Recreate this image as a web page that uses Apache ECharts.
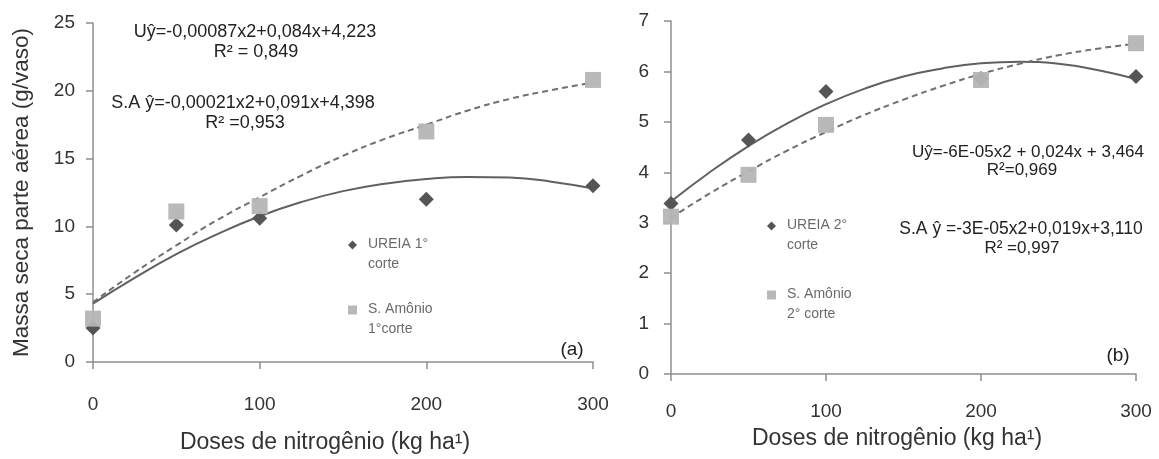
<!DOCTYPE html>
<html lang="pt">
<head>
    <meta charset="UTF-8">
    <title>Massa seca parte aérea</title>
    <script src="https://cdn.jsdelivr.net/npm/echarts@6.0.0/dist/echarts.min.js"></script>
    <style>
        body { margin: 0; background: #fff; }
        #chart { width: 1159px; height: 459px; }
    </style>
</head>
<body>
    <div id="chart"></div>
    <script>
        // doses de N (kg ha-1)
        const doses = [0, 50, 100, 200, 300];
        // pontos observados (a) 1° corte
        const ureia1 = [2.5, 10.1, 10.6, 12.0, 13.0];
        const sa1 = [3.2, 11.1, 11.5, 17.0, 20.8];
        // pontos observados (b) 2° corte
        const ureia2 = [3.38, 4.64, 5.6, 5.86, 5.9];
        const sa2 = [3.12, 3.95, 4.94, 5.83, 6.56];

        const curveX = [0, 25, 50, 75, 100, 125, 150, 175, 200, 225, 250, 275, 300];
        const ureia1Fit = [4.3, 6.2, 7.95, 9.45, 10.75, 11.8, 12.6, 13.15, 13.5, 13.65, 13.6, 13.3, 12.8];
        const sa1Fit = [4.4, 6.6, 8.6, 10.5, 12.15, 13.75, 15.2, 16.45, 17.5, 18.55, 19.4, 20.05, 20.6];
        const ureia2Fit = [3.42, 4.0, 4.52, 4.97, 5.35, 5.66, 5.9, 6.06, 6.16, 6.19, 6.15, 6.03, 5.85];
        const sa2Fit = [3.1, 3.58, 4.02, 4.43, 4.8, 5.14, 5.44, 5.71, 5.95, 6.15, 6.32, 6.45, 6.55];

        const yTicks1 = { min: 0, max: 25, interval: 5 };
        const yTicks2 = { min: 0, max: 7, interval: 1 };

        const pairs = (xs, ys) => xs.map((x, i) => [x, ys[i]]);

        const font = 'Liberation Sans, Arial, sans-serif';
        const narrow = 'Liberation Sans Narrow, Arial Narrow, Liberation Sans, sans-serif';
        const axisColor = '#8f8f8f';
        const dark = '#555555';
        const light = '#b5b5b5';

        // icones da legenda: simbolo no topo, alinhado com a primeira linha do texto
        const diamondIcon = 'path://M5,0L10,5L5,10L0,5Z M5,30L5,30';
        const squareIcon = 'path://M0,0L10,0L10,10L0,10Z M5,30L5,30';

        function xAxisCfg(gridIndex, gap, margin, shift) {
            return {
                type: 'value', gridIndex: gridIndex, min: 0, max: 300, interval: 100,
                name: 'Doses de nitrogênio (kg ha¹)', nameLocation: 'middle', nameGap: gap,
                nameTextStyle: { fontFamily: font, fontSize: 23, color: '#333', padding: [0, shift, 0, 0] },
                axisLine: { lineStyle: { color: axisColor, width: 1.5 } },
                axisTick: { length: 7, lineStyle: { color: axisColor, width: 1.5 } },
                axisLabel: { fontFamily: font, fontSize: 19, color: '#333', margin: margin },
                splitLine: { show: false }
            };
        }
        function yAxisCfg(gridIndex, t, margin) {
            return {
                type: 'value', gridIndex: gridIndex, min: t.min, max: t.max, interval: t.interval,
                axisLine: { show: true, lineStyle: { color: axisColor, width: 1.5 } },
                axisTick: { show: true, length: 7, lineStyle: { color: axisColor, width: 1.5 } },
                axisLabel: { fontFamily: font, fontSize: 19, color: '#333', margin: margin },
                splitLine: { show: false }
            };
        }

        function fitLine(name, x, y, idx, dashed) {
            return {
                name: name, type: 'line', xAxisIndex: idx, yAxisIndex: idx,
                data: pairs(x, y), smooth: true, showSymbol: false, z: 2,
                lineStyle: { color: dashed ? '#707070' : '#606060', width: 2, type: dashed ? [6, 4] : 'solid' }
            };
        }
        function points(name, x, y, idx, isSquare) {
            return {
                name: name, type: 'scatter', xAxisIndex: idx, yAxisIndex: idx,
                data: pairs(x, y), z: isSquare ? 4 : 3,
                symbol: isSquare ? 'rect' : 'diamond',
                symbolSize: isSquare ? 16 : 15,
                itemStyle: { color: isSquare ? light : dark, opacity: isSquare ? 0.95 : 1 }
            };
        }

        function eq(text, x, y, size) {
            return {
                type: 'text', x: x, y: y,
                style: { text: text, fontFamily: narrow, fontSize: size, fill: '#222', align: 'center', verticalAlign: 'middle' }
            };
        }

        function legendCfg(names, left, top, gap) {
            return {
                data: [
                    { name: names[0], icon: diamondIcon },
                    { name: names[1], icon: squareIcon }
                ],
                orient: 'vertical', left: left, top: top, itemGap: gap,
                itemWidth: 9, itemHeight: 30,
                textStyle: { fontFamily: narrow, fontSize: 14, color: '#6a6a6a', lineHeight: 20, padding: [0, 0, 0, 6] }
            };
        }

        const chart = echarts.init(document.getElementById('chart'));
        chart.setOption({
            animation: false,
            grid: [
                { left: 93, top: 23, width: 500, height: 346 },
                { left: 671, top: 21, width: 465, height: 353 }
            ],
            xAxis: [xAxisCfg(0, 69, 33, 36), xAxisCfg(1, 53, 28, 13)],
            yAxis: [
                Object.assign(yAxisCfg(0, yTicks1, 18), {
                    name: 'Massa seca parte aérea (g/vaso)', nameLocation: 'middle', nameGap: 60,
                    nameTextStyle: { fontFamily: font, fontSize: 22.5, color: '#333' }
                }),
                yAxisCfg(1, yTicks2, 22)
            ],
            legend: [
                legendCfg(['UREIA 1°\ncorte', 'S. Amônio\n1°corte'], 343, 229, 25),
                legendCfg(['UREIA 2°\ncorte', 'S. Amônio\n2° corte'], 762, 210, 29)
            ],
            graphic: [
                eq('Uŷ=-0,00087x2+0,084x+4,223', 255, 32, 18),
                eq('R² = 0,849', 256, 52, 18),
                eq('S.A ŷ=-0,00021x2+0,091x+4,398', 243, 103, 18),
                eq('R² =0,953', 245, 123, 18),
                eq('(a)', 572, 350, 19),
                eq('Uŷ=-6E-05x2 + 0,024x + 3,464', 1028, 152, 17),
                eq('R²=0,969', 1022, 170, 17),
                eq('S.A ŷ =-3E-05x2+0,019x+3,110', 1021, 229, 17.5),
                eq('R² =0,997', 1022, 248, 17),
                eq('(b)', 1118, 356, 19)
            ],
            series: [
                fitLine('fitU1', curveX, ureia1Fit, 0, false),
                fitLine('fitS1', curveX, sa1Fit, 0, true),
                points('UREIA 1°\ncorte', doses, ureia1, 0, false),
                points('S. Amônio\n1°corte', doses, sa1, 0, true),
                fitLine('fitU2', curveX, ureia2Fit, 1, false),
                fitLine('fitS2', curveX, sa2Fit, 1, true),
                points('UREIA 2°\ncorte', doses, ureia2, 1, false),
                points('S. Amônio\n2° corte', doses, sa2, 1, true)
            ]
        });
    </script>
</body>
</html>
